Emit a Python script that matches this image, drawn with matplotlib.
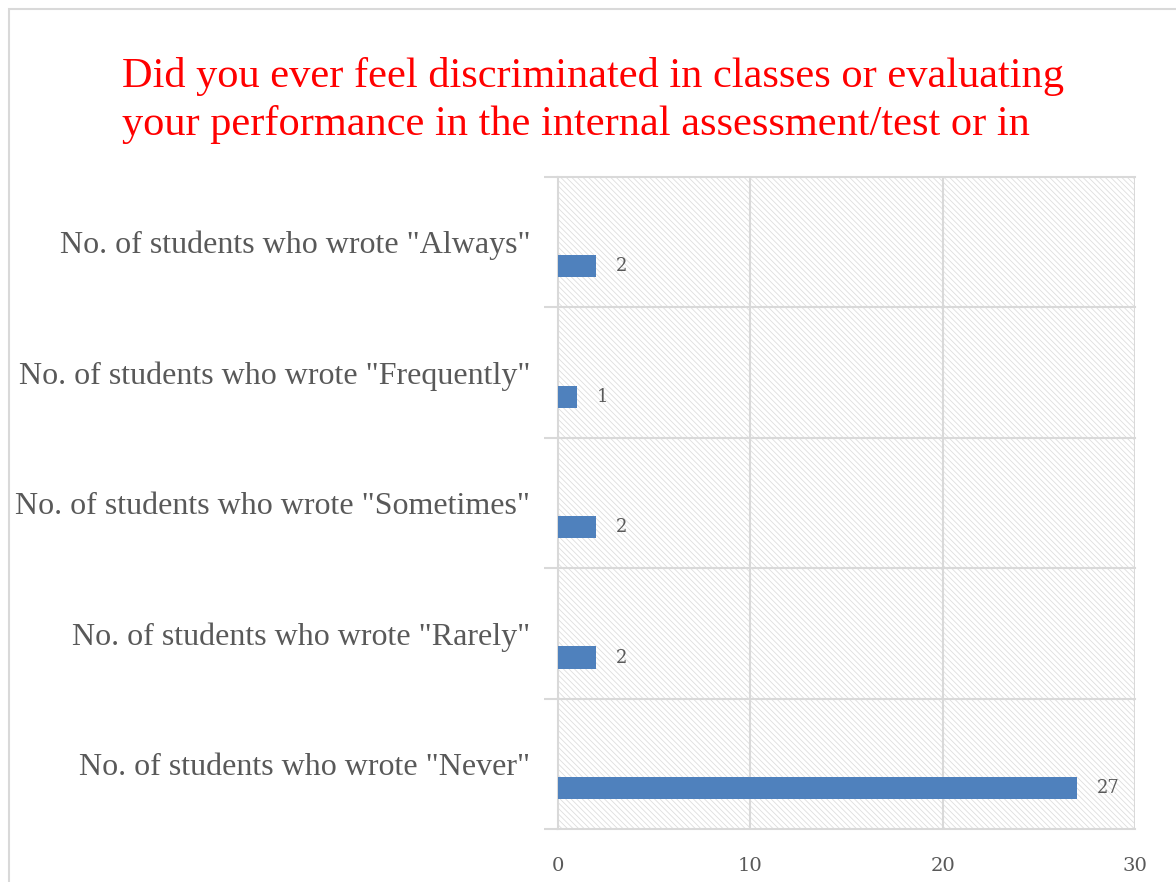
import matplotlib.pyplot as plt
from matplotlib.patches import Rectangle
import numpy as np

# data (bottom to top as drawn)
categories = ['No. of students who wrote "Never"',
              'No. of students who wrote "Rarely"',
              'No. of students who wrote "Sometimes"',
              'No. of students who wrote "Frequently"',
              'No. of students who wrote "Always"']
counts = [27, 2, 2, 1, 2]
title = ('Did you ever feel discriminated in classes or evaluating\n'
         'your performance in the internal assessment/test or in')

grid_col = '#d9d9d9'
text_col = '#595959'
bar_col = '#4f81bd'

plt.rcParams['hatch.linewidth'] = 0.6
plt.rcParams['hatch.color'] = '#dedede'

fig = plt.figure(figsize=(11.76, 8.82), dpi=100)
# outer chart border
fig.patches.append(Rectangle((9 / 1176, -0.05), 1.2, 1 - 9 / 882 + 0.05,
                             transform=fig.transFigure, fill=False,
                             edgecolor=grid_col, linewidth=1.5))

ax = fig.add_axes([558 / 1176, 1 - 829 / 882, (1135 - 558) / 1176, (829 - 177) / 882])

y = np.arange(len(categories))
ax.set_xlim(0, 30)
ax.set_ylim(-0.5, len(categories) - 0.5)

# hatched plot background
ax.add_patch(Rectangle((0, -0.5), 30, len(categories), facecolor='white',
                       hatch='\\\\\\\\\\\\', linewidth=0, zorder=0))

bars = ax.barh(y - 0.185, counts, height=0.17, color=bar_col, zorder=3)
for yy, v in zip(y, counts):
    ax.annotate(str(v), (v, yy - 0.185), xytext=(14, 0), textcoords='offset points',
                va='center', ha='left', fontsize=13, color=text_col,
                family='DejaVu Serif', zorder=4)

# grid lines
for xv in [10, 20, 30]:
    ax.axvline(xv, color=grid_col, linewidth=1.5, zorder=1)
for b in np.arange(-0.5, len(categories), 1.0):
    ax.axhline(b, color=grid_col, linewidth=1.5, zorder=1, clip_on=False)

for s in ['top', 'right']:
    ax.spines[s].set_visible(False)
ax.spines['bottom'].set_visible(False)
ax.spines['left'].set_color(grid_col)
ax.spines['left'].set_linewidth(1.5)

ax.set_yticks(y)
ax.set_yticklabels(categories, fontsize=23, color=text_col, family='Liberation Serif')
ax.set_yticks(np.arange(-0.5, len(categories), 1.0), minor=True)
ax.tick_params(axis='y', which='major', length=0, pad=20)
ax.tick_params(axis='y', which='minor', length=10, color=grid_col, width=1.5)

ax.set_xticks([0, 10, 20, 30])
ax.tick_params(axis='x', length=0, pad=20, labelsize=14, labelcolor=text_col)
for lab in ax.get_xticklabels():
    lab.set_family('DejaVu Serif')

fig.text(122 / 1176, 1 - 100 / 882, title, color='red', fontsize=30.5,
         family='Liberation Serif', ha='left', va='center', linespacing=1.3)

fig.savefig('out.png', dpi=100)
